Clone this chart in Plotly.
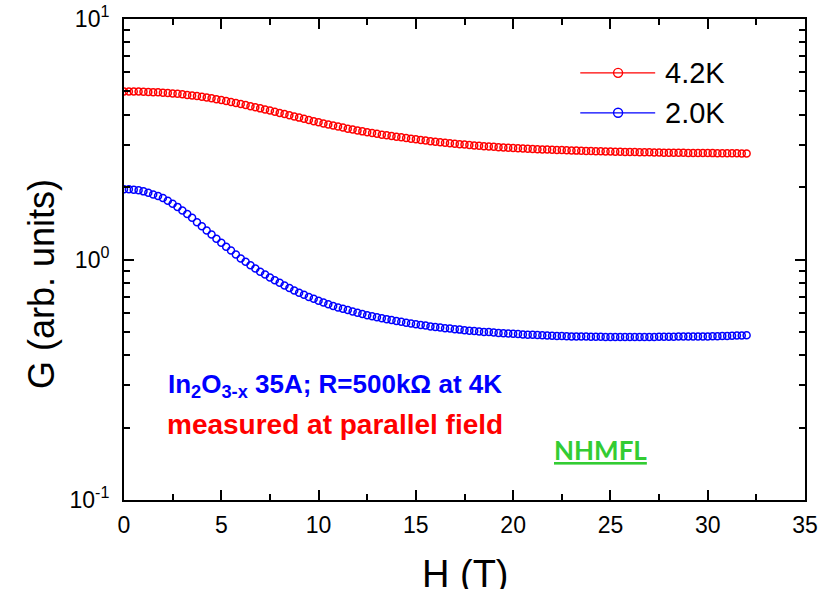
import plotly.graph_objects as go

# Magnetic field sweep (T), 0.25 T steps from 0 to 32 T
H_T = [i * 0.25 for i in range(129)]

# Conductance at 4.2 K (arb. units)
G_42K = [
    5.00, 5.00, 4.995, 4.99,
    4.98, 4.975, 4.965, 4.955,
    4.94, 4.925, 4.905, 4.885,
    4.86, 4.835, 4.81, 4.78,
    4.75, 4.715, 4.68, 4.64,
    4.60, 4.56, 4.52, 4.475,
    4.43, 4.385, 4.34, 4.295,
    4.25, 4.205, 4.16, 4.115,
    4.07, 4.025, 3.98, 3.935,
    3.89, 3.845, 3.80, 3.76,
    3.72, 3.68, 3.64, 3.605,
    3.57, 3.535, 3.50, 3.47,
    3.44, 3.41, 3.385, 3.355,
    3.33, 3.305, 3.285, 3.26,
    3.24, 3.22, 3.20, 3.18,
    3.16, 3.14, 3.125, 3.105,
    3.09, 3.075, 3.06, 3.045,
    3.03, 3.017, 3.005, 2.992,
    2.98, 2.97, 2.96, 2.95,
    2.94, 2.932, 2.925, 2.917,
    2.91, 2.902, 2.895, 2.887,
    2.88, 2.875, 2.87, 2.865,
    2.86, 2.855, 2.85, 2.845,
    2.84, 2.836, 2.832, 2.829,
    2.825, 2.821, 2.817, 2.814,
    2.81, 2.807, 2.805, 2.802,
    2.80, 2.797, 2.795, 2.792,
    2.79, 2.787, 2.785, 2.782,
    2.78, 2.779, 2.778, 2.776,
    2.775, 2.774, 2.773, 2.771,
    2.77, 2.769, 2.768, 2.766,
    2.765, 2.764, 2.763, 2.761,
    2.76,
]

# Conductance at 2.0 K (arb. units)
G_20K = [
    1.96, 1.958, 1.952, 1.94,
    1.92, 1.895, 1.865, 1.835,
    1.80, 1.755, 1.705, 1.655,
    1.60, 1.545, 1.49, 1.43,
    1.375, 1.32, 1.27, 1.22,
    1.175, 1.13, 1.09, 1.05,
    1.01, 0.978, 0.947, 0.918,
    0.89, 0.866, 0.842, 0.82,
    0.80, 0.78, 0.762, 0.744,
    0.727, 0.713, 0.699, 0.686,
    0.673, 0.662, 0.651, 0.641,
    0.632, 0.624, 0.616, 0.608,
    0.60, 0.594, 0.587, 0.581,
    0.575, 0.57, 0.565, 0.56,
    0.555, 0.551, 0.546, 0.542,
    0.538, 0.534, 0.531, 0.527,
    0.524, 0.521, 0.518, 0.516,
    0.513, 0.511, 0.508, 0.506,
    0.504, 0.502, 0.50, 0.499,
    0.497, 0.495, 0.494, 0.492,
    0.491, 0.49, 0.488, 0.487,
    0.486, 0.485, 0.484, 0.483,
    0.482, 0.481, 0.481, 0.48,
    0.479, 0.479, 0.478, 0.478,
    0.477, 0.477, 0.477, 0.476,
    0.476, 0.476, 0.476, 0.476,
    0.476, 0.476, 0.476, 0.476,
    0.476, 0.476, 0.477, 0.477,
    0.477, 0.477, 0.478, 0.478,
    0.478, 0.478, 0.479, 0.479,
    0.479, 0.48, 0.48, 0.481,
    0.481, 0.482, 0.483, 0.483,
    0.484,
]

X_TICKS = [0, 5, 10, 15, 20, 25, 30, 35]
Y_TICKS = [0.1, 1, 10]
Y_TICK_TEXT = ["10<sup>-1</sup>", "10<sup>0</sup>", "10<sup>1</sup>"]
Y_MINOR = [m * 10 ** e for e in (-1, 0) for m in range(2, 10)]

SERIES = [("4.2K", G_42K, "#ff0000"), ("2.0K", G_20K, "#0000ff")]

FONT = "Liberation Sans, Arial, sans-serif"

fig = go.Figure()
for name, g, color in SERIES:
    fig.add_trace(go.Scatter(
        x=H_T, y=g, name=name, mode="markers",
        marker=dict(symbol="circle-open", size=7, color=color,
                    line=dict(width=1.5, color=color)),
        showlegend=False,
    ))

axis_common = dict(
    showline=True, linecolor="black", linewidth=2, mirror="allticks",
    ticks="inside", tickcolor="black", tickwidth=2, ticklen=10,
    showgrid=False, zeroline=False, automargin=False,
    tickfont=dict(family=FONT, size=23, color="black"),
)

fig.update_xaxes(
    range=[0, 35], tickvals=X_TICKS, ticktext=[str(v) for v in X_TICKS],
    minor=dict(ticks="inside", ticklen=6, tickwidth=2, tickcolor="black",
               dtick=2.5, tick0=0),
    ticklabelstandoff=3,
    **axis_common,
)
fig.update_yaxes(
    type="log", range=[-1, 1], tickvals=Y_TICKS, ticktext=Y_TICK_TEXT,
    minor=dict(ticks="inside", ticklen=6, tickwidth=2, tickcolor="black",
               tickvals=Y_MINOR),
    ticklabelstandoff=8,
    **axis_common,
)

annotations = [
    dict(text="H (T)", x=0.502, y=-0.153, xref="paper", yref="paper",
         xanchor="center", yanchor="middle", showarrow=False,
         font=dict(family=FONT, size=38, color="black")),
    dict(text="G (arb. units)", x=-0.122, y=0.449, xref="paper", yref="paper",
         xanchor="center", yanchor="middle", textangle=-90, showarrow=False,
         font=dict(family=FONT, size=36, color="black")),
    dict(text="In<sub>2</sub>O<sub>3-x</sub> 35A; R=500k\u03a9 at 4K",
         x=0.31, y=0.239, xref="paper", yref="paper",
         xanchor="center", yanchor="middle", showarrow=False,
         font=dict(family=FONT, size=26, color="#0000ff", weight="bold")),
    dict(text="measured at parallel field",
         x=0.31, y=0.158, xref="paper", yref="paper",
         xanchor="center", yanchor="middle", showarrow=False,
         font=dict(family=FONT, size=28, color="#ff0000", weight="bold")),
    dict(text="<u>NHMFL</u>", x=0.699, y=0.103, xref="paper", yref="paper",
         xanchor="center", yanchor="middle", showarrow=False,
         font=dict(family="Lato, sans-serif", size=26, color="#33cc33",
                   weight="bold")),
]

# Legend drawn as line + open marker + label, in paper coordinates
shapes = []
legend_rows = [0.888, 0.805]
for (name, g, color), ly in zip(SERIES, legend_rows):
    shapes.append(dict(type="line", xref="paper", yref="paper",
                       x0=0.670, x1=0.780, y0=ly, y1=ly,
                       line=dict(color=color, width=1.3)))
    fig.add_trace(go.Scatter(
        x=[0.7255], y=[ly], xaxis="x2", yaxis="y2", mode="markers",
        marker=dict(symbol="circle", size=9, color="white",
                    line=dict(width=1.4, color=color)),
        showlegend=False, hoverinfo="skip",
    ))
    annotations.append(dict(text=name, x=0.791, y=ly, xref="paper",
                            yref="paper", xanchor="left", yanchor="middle",
                            showarrow=False,
                            font=dict(family=FONT, size=29, color="black")))

fig.update_layout(
    width=832, height=589,
    margin=dict(l=124, r=27, t=19, b=89),
    plot_bgcolor="white", paper_bgcolor="white",
    xaxis2=dict(overlaying="x", range=[0, 1], visible=False),
    yaxis2=dict(overlaying="y", range=[0, 1], visible=False),
    annotations=annotations, shapes=shapes,
    showlegend=False,
)

fig.write_html("out.html")
